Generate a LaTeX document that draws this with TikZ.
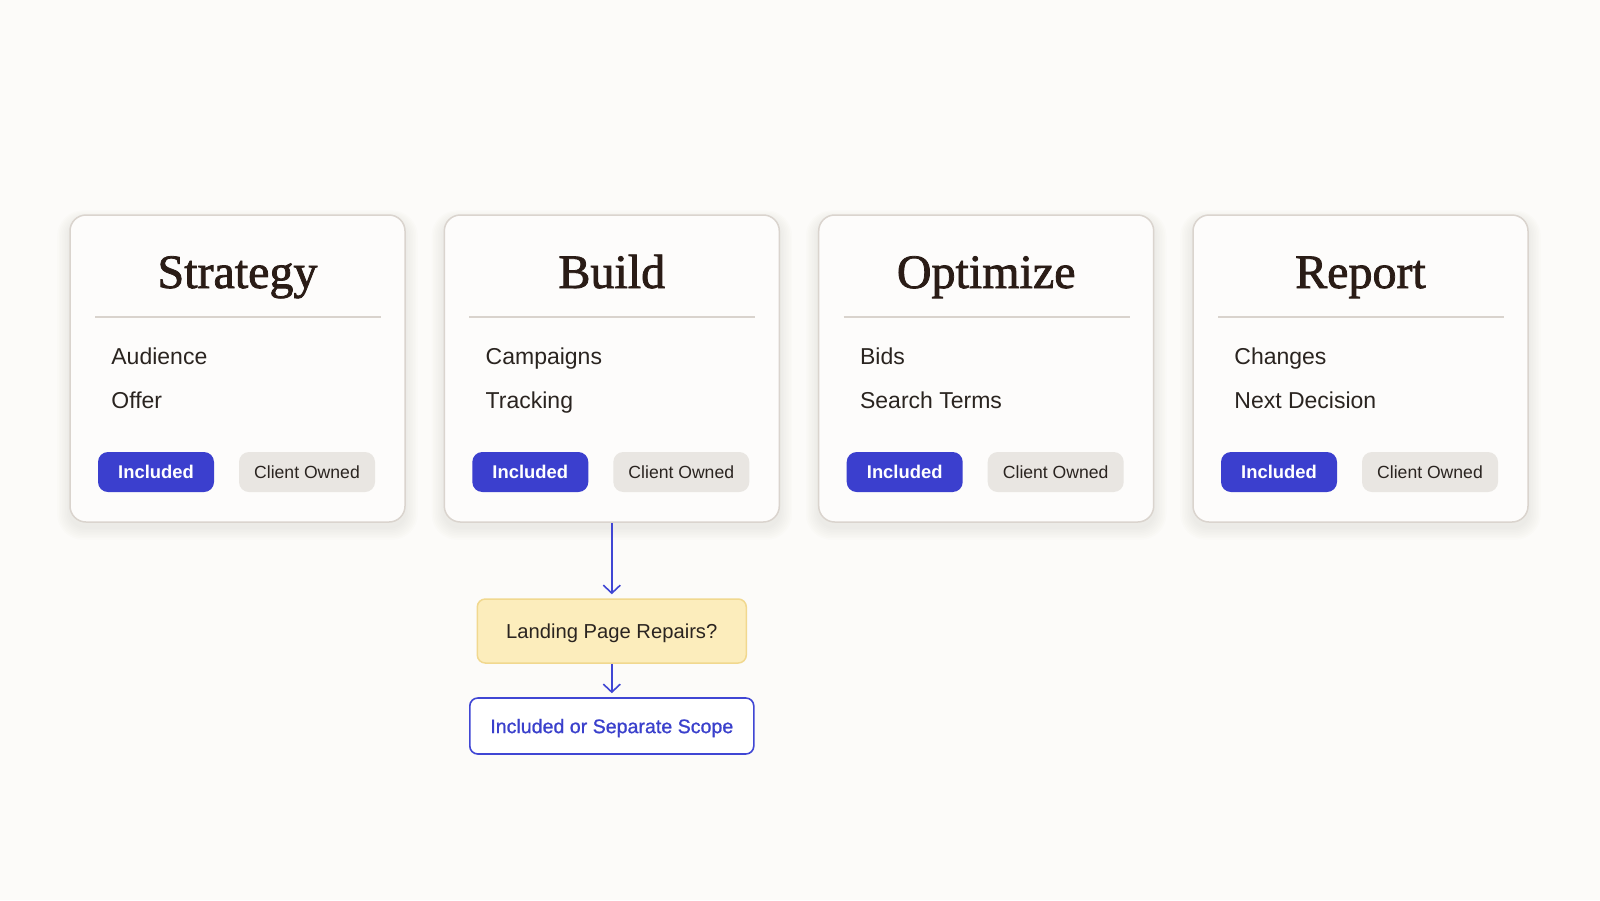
\documentclass[tikz,border=0pt]{standalone}
\usepackage{fontspec}
\setmainfont{Liberation Sans}
\newfontfamily\titlefont[FakeBold=1.6]{Liberation Serif}
\newfontfamily\medfont[FakeBold=0.9]{Liberation Sans}
\usetikzlibrary{arrows.meta}
\definecolor{bg}{HTML}{FCFBF9}
\definecolor{cardfill}{HTML}{FDFCFB}
\definecolor{cardline}{HTML}{DAD4CE}
\definecolor{titlecol}{HTML}{2A1C16}
\definecolor{textcol}{HTML}{2A2420}
\definecolor{divcol}{HTML}{D9D3CD}
\definecolor{inclfill}{HTML}{3B3FCE}
\definecolor{clientfill}{HTML}{E9E6E2}
\definecolor{yelfill}{HTML}{FCEDBC}
\definecolor{yelline}{HTML}{F1D88F}
\definecolor{bluecol}{HTML}{4046D4}
\definecolor{bluetext}{HTML}{3A40CC}
\definecolor{shadowcol}{HTML}{6B5A4A}
\tikzset{
  card/.style={draw=cardline, line width=0.75pt, fill=cardfill, rounded corners=8pt,
    minimum width=167.5pt, minimum height=153.5pt, inner sep=0pt},
  shadowlayer/.style={fill=shadowcol, opacity=0.012},
  titletext/.style={inner sep=0pt, text=titlecol, font=\titlefont\fontsize{24}{28}\selectfont},
  divider/.style={draw=divcol, line width=0.75pt},
  itemtext/.style={inner sep=0pt, text=textcol, font=\fontsize{11.5}{14}\selectfont},
  inclpill/.style={fill=inclfill, rounded corners=5pt, minimum width=58pt, minimum height=20pt,
    inner sep=0pt, text=white, font=\bfseries\fontsize{9.2}{11}\selectfont},
  clientpill/.style={fill=clientfill, rounded corners=5pt, minimum width=68pt, minimum height=20pt,
    inner sep=0pt, text=textcol, font=\fontsize{8.8}{11}\selectfont},
  question/.style={draw=yelline, line width=0.75pt, fill=yelfill, rounded corners=4pt,
    minimum width=134.5pt, minimum height=32pt, inner sep=0pt, text depth=0pt, text=textcol,
    font=\fontsize{10.1}{12}\selectfont},
  outcome/.style={draw=bluecol, line width=0.8pt, fill=white, rounded corners=4pt,
    minimum width=142pt, minimum height=28pt, inner sep=0pt, text depth=0pt, text=bluetext,
    font=\medfont\fontsize{9.8}{12}\selectfont},
  arr/.style={draw=bluecol, line width=0.8pt, -{Straight Barb[length=4pt,width=8.5pt,line width=0.8pt]}, shorten >=2pt}
}
\begin{document}
\begin{tikzpicture}[x=0.5pt,y=-0.5pt]
\path[use as bounding box, fill=bg] (0,0) rectangle (1600,900);
\foreach \i/\cx/\t/\a/\b in {1/237.5/Strategy/Audience/Offer,
  2/611.8/Build/Campaigns/Tracking,
  3/986.2/Optimize/Bids/Search Terms,
  4/1360.5/Report/Changes/Next Decision}{
  \foreach \k in {1,...,8}{
    \fill[shadowlayer, rounded corners={8pt+\k*0.6pt}]
      ({\cx-167.5-\k*1.6},{215+5-\k*1.2}) rectangle ({\cx+167.5+\k*1.6},{522+5+\k*1.6});
  }
  \node[card] (card\i) at (\cx,368.5) {};
  \node[titletext, anchor=base] (title\i) at (\cx,288) {\t};
  \draw[divider] ({\cx-142.5},317) -- ({\cx+143.5},317);
  \node[itemtext, anchor=base west] (itemA\i) at ({\cx-126.5},364) {\a};
  \node[itemtext, anchor=base west] (itemB\i) at ({\cx-126.5},408) {\b};
  \node[inclpill] (incl\i) at ({\cx-81.5},472) {Included};
  \node[clientpill] (client\i) at ({\cx+69.5},472) {Client Owned};
}
\node[question] (q) at (611.8,631) {Landing Page Repairs?};
\node[outcome] (r) at (611.8,726) {Included or Separate Scope};
\draw[arr] (card2.south) -- (q.north);
\draw[arr] (q.south) -- (r.north);
\end{tikzpicture}
\end{document}
